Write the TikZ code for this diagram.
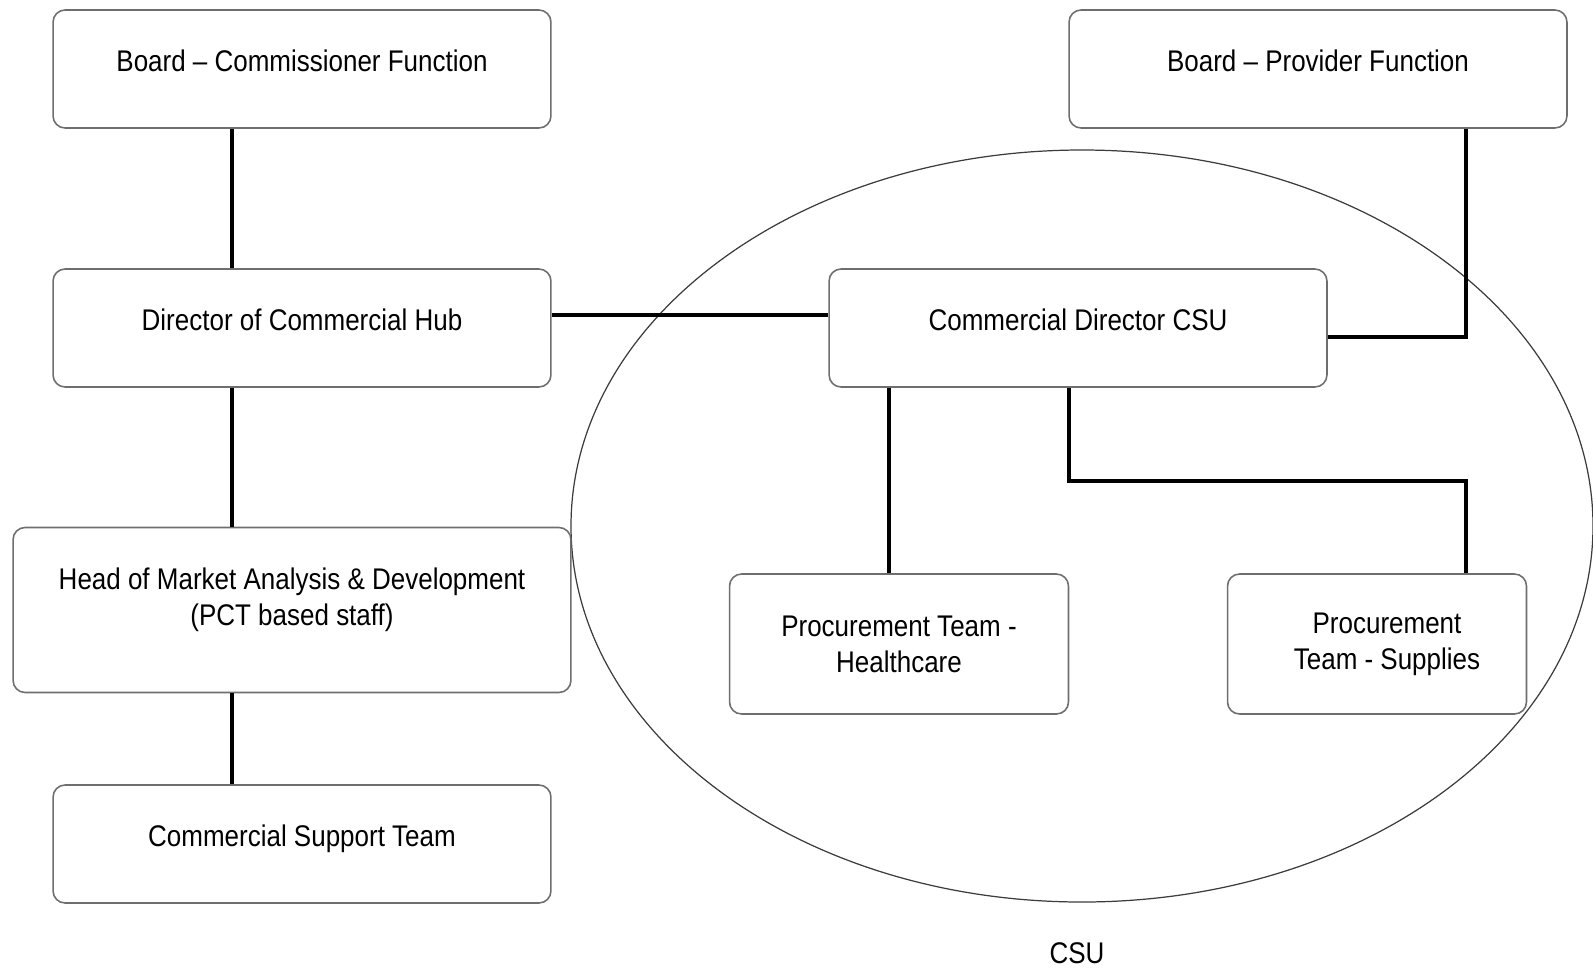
\documentclass[tikz,border=0pt]{standalone}
\usepackage{fontspec}
\setmainfont{Liberation Sans}[FakeStretch=0.87]
\usetikzlibrary{positioning, calc}
\definecolor{boxgrey}{RGB}{110,110,110}
\definecolor{ringgrey}{RGB}{60,60,60}

\begin{document}
\begin{tikzpicture}[x=0.02cm, y=-0.02cm,
    unit/.style={rectangle, rounded corners=0.24cm, draw=boxgrey, line width=0.9pt,
                 minimum width=9.96cm, minimum height=2.36cm, inner sep=0pt,
                 align=center, font=\fontsize{17}{20.4}\selectfont},
    oneline/.style={text depth=9pt},
    team/.style={unit, minimum height=2.8cm},
    link/.style={line width=1.8pt, black},
    ring/.style={draw=ringgrey, line width=0.7pt},
    lbl/.style={font=\fontsize{17}{20.4}\selectfont}]

\useasboundingbox (0,0) rectangle (1593,968);

%% CSU boundary
\draw[ring] (1082,526) ellipse [x radius=511, y radius=376];
\node[lbl] (csulbl) at (1077,953) {CSU};

%% Commissioner side (left column)
\node[unit, oneline] (comm) at (302,69)  {Board -- Commissioner Function};
\node[unit, oneline] (hub)  at (302,328) {Director of Commercial Hub};
\node[unit, minimum width=11.16cm, minimum height=3.3cm] (head) at (292,610)
    {Head of Market Analysis \& Development\\(PCT based staff)\\[-5pt]\mbox{}};
\node[unit, oneline] (supp) at (302,844) {Commercial Support Team};

%% Provider side
\node[unit, oneline] (prov) at (1318,69)  {Board -- Provider Function};
\node[unit, oneline] (csu)  at (1078,328) {Commercial Director CSU};
\node[team, minimum width=6.78cm] (hc)  at (899,644)  {Procurement Team -\\Healthcare};
\node[team, minimum width=5.98cm] (sup) at (1377,644)
    {\hspace*{0.4cm}Procurement\\\hspace*{0.4cm}Team - Supplies};

%% Tie points
\coordinate (spineL) at (232,0);
\coordinate (spineR) at (1466,0);
\coordinate (hcdrop) at (889,0);
\coordinate (supdrop) at (1069,0);
\coordinate (hubtie) at (0,315);
\coordinate (provtie) at (0,337);
\coordinate (bus) at (0,481);

%% Left column links
\draw[link] (comm.south -| spineL) -- (hub.north -| spineL);
\draw[link] (hub.south -| spineL)  -- (head.north -| spineL);
\draw[link] (head.south -| spineL) -- (supp.north -| spineL);

%% Hub to CSU
\draw[link] (hub.east |- hubtie) -- (csu.west |- hubtie);

%% Provider board to CSU director
\draw[link] (prov.south -| spineR) |- (csu.east |- provtie);

%% CSU director to procurement teams
\draw[link] (csu.south -| hcdrop) -- (hc.north -| hcdrop);
\draw[link] (csu.south -| supdrop) -- (supdrop |- bus) -| (sup.north -| spineR);

\end{tikzpicture}
\end{document}
